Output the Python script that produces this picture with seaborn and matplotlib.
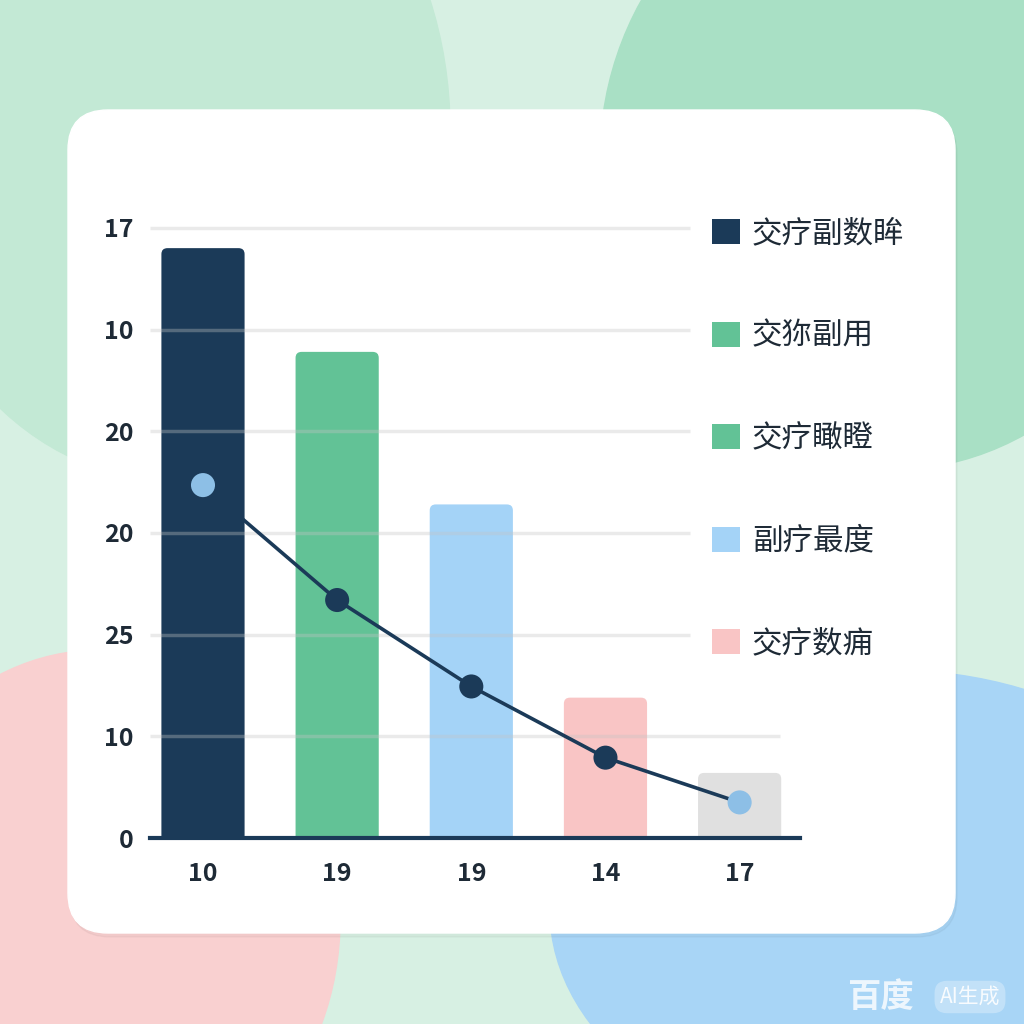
import numpy as np
import pandas as pd
import matplotlib
matplotlib.use("Agg")
import matplotlib.pyplot as plt
from matplotlib.patches import Ellipse, FancyBboxPatch, Patch
import seaborn as sns

# data (grid units, 0 at the baseline)
x_labels = ["10", "19", "19", "14", "17"]
bar_values = [5.80, 4.78, 3.28, 1.38, 0.64]
line_values = [3.47, 2.34, 1.49, 0.79, 0.35]
y_ticks = [0, 1, 2, 3, 4, 5, 6]
y_tick_labels = ["0", "10", "25", "20", "20", "10", "17"]
legend_labels = ["交疗副数眸", "交狝副用", "交疗瞰瞪", "副疗最度", "交疗数痈"]

bar_colors = ["#1b3a58", "#62c296", "#a4d3f7", "#f9c5c5", "#e0e0e0"]
legend_colors = ["#1b3a58", "#62c296", "#62c296", "#a4d3f7", "#f9c5c5"]
marker_colors = ["#8dbfe6", "#1b3a58", "#1b3a58", "#1b3a58", "#8dbfe6"]
navy = "#1b3a58"

sns.set_theme(style="white")
plt.rcParams['font.family'] = ['Noto Sans CJK SC', 'DejaVu Sans']

fig = plt.figure(figsize=(10.24, 10.24), dpi=100)

# background blobs and card, drawn in pixel coords
bg = fig.add_axes([0, 0, 1, 1])
bg.set_xlim(0, 1024)
bg.set_ylim(1024, 0)
bg.axis("off")
bg.add_patch(plt.Rectangle((0, 0), 1024, 1024, color="#d7f0e3", zorder=0))
bg.add_patch(Ellipse((170, 130), 560, 700, color="#c3e9d5", zorder=1))
bg.add_patch(Ellipse((890, 160), 580, 620, color="#a9e0c5", zorder=1))
bg.add_patch(Ellipse((100, 920), 480, 540, color="#f9d0d0", zorder=1))
bg.add_patch(Ellipse((890, 910), 680, 480, color="#a8d5f6", zorder=1))
bg.add_patch(FancyBboxPatch((70, 114), 887, 823, boxstyle="round,pad=0,rounding_size=40",
                            color="black", alpha=0.03, zorder=2))
bg.add_patch(FancyBboxPatch((68, 110), 887, 823, boxstyle="round,pad=0,rounding_size=40",
                            color="white", zorder=3))
bg.text(880, 997, "百度", fontsize=24, color="white", alpha=0.8, ha="center", va="center",
        fontweight="bold", zorder=4)
bg.text(970, 997, "AI生成", fontsize=15, color="white", alpha=0.9, ha="center", va="center",
        zorder=4, bbox=dict(boxstyle="round,pad=0.25,rounding_size=0.6", fc="white",
                            ec="none", alpha=0.3))

# chart axes
ax = fig.add_axes([150 / 1024, 186 / 1024, 650 / 1024, 6.2 * 101.7 / 1024])
ax.patch.set_alpha(0)

df = pd.DataFrame({"x": x_labels, "pos": range(5), "bar": bar_values, "line": line_values})
df["key"] = [str(i) for i in range(5)]

sns.barplot(data=df, x="key", y="bar", hue="key", palette=bar_colors, width=0.62,
            legend=False, ax=ax, saturation=1)

# swap the plain bars for rounded-top ones
for p in list(ax.patches):
    x0, w, h = p.get_x(), p.get_width(), p.get_height()
    fc = p.get_facecolor()
    p.set_visible(False)
    ax.add_patch(FancyBboxPatch((x0, -0.2), w, h + 0.2,
                                boxstyle="round,pad=0,rounding_size=0.045",
                                mutation_aspect=1.31, fc=fc, ec="none", zorder=2))

ax.set_xlim(-0.395, 4.45)
ax.set_ylim(0, 6.2)

# gridlines over bars, semi-transparent
for t in y_ticks[1:]:
    xmax = 4.30 if t == 1 else 3.63
    ax.hlines(t, -0.395, xmax, color="#c4c4c4", alpha=0.35, lw=2.5, zorder=3)

sns.lineplot(data=df, x="pos", y="line", color=navy, lw=2.6, ax=ax, zorder=4)
ax.scatter(df["pos"], df["line"], s=300, c=marker_colors, zorder=5, linewidths=0)

ax.set_xticks(range(5))
ax.set_xticklabels(x_labels, fontsize=18, fontweight="bold", color="#1e2a36")
ax.set_yticks(y_ticks)
ax.set_yticklabels(y_tick_labels, fontsize=18, fontweight="bold", color="#1e2a36")
ax.tick_params(axis="x", length=0, pad=17)
ax.tick_params(axis="y", length=0, pad=12)
ax.set_xlabel("")
ax.set_ylabel("")
for s in ["top", "right", "left"]:
    ax.spines[s].set_visible(False)
ax.spines["bottom"].set_color(navy)
ax.spines["bottom"].set_linewidth(3)

handles = [Patch(facecolor=c, edgecolor="none") for c in legend_colors]
fig.legend(handles, legend_labels, loc="upper left",
           bbox_to_anchor=(697 / 1024, 1 - 203 / 1024), frameon=False,
           prop={"size": 22, "weight": "medium"}, handlelength=0.9, handleheight=0.9,
           handletextpad=0.4, labelspacing=2.34, borderpad=0, labelcolor="#1e2a36")

fig.savefig("out.png", dpi=100)
